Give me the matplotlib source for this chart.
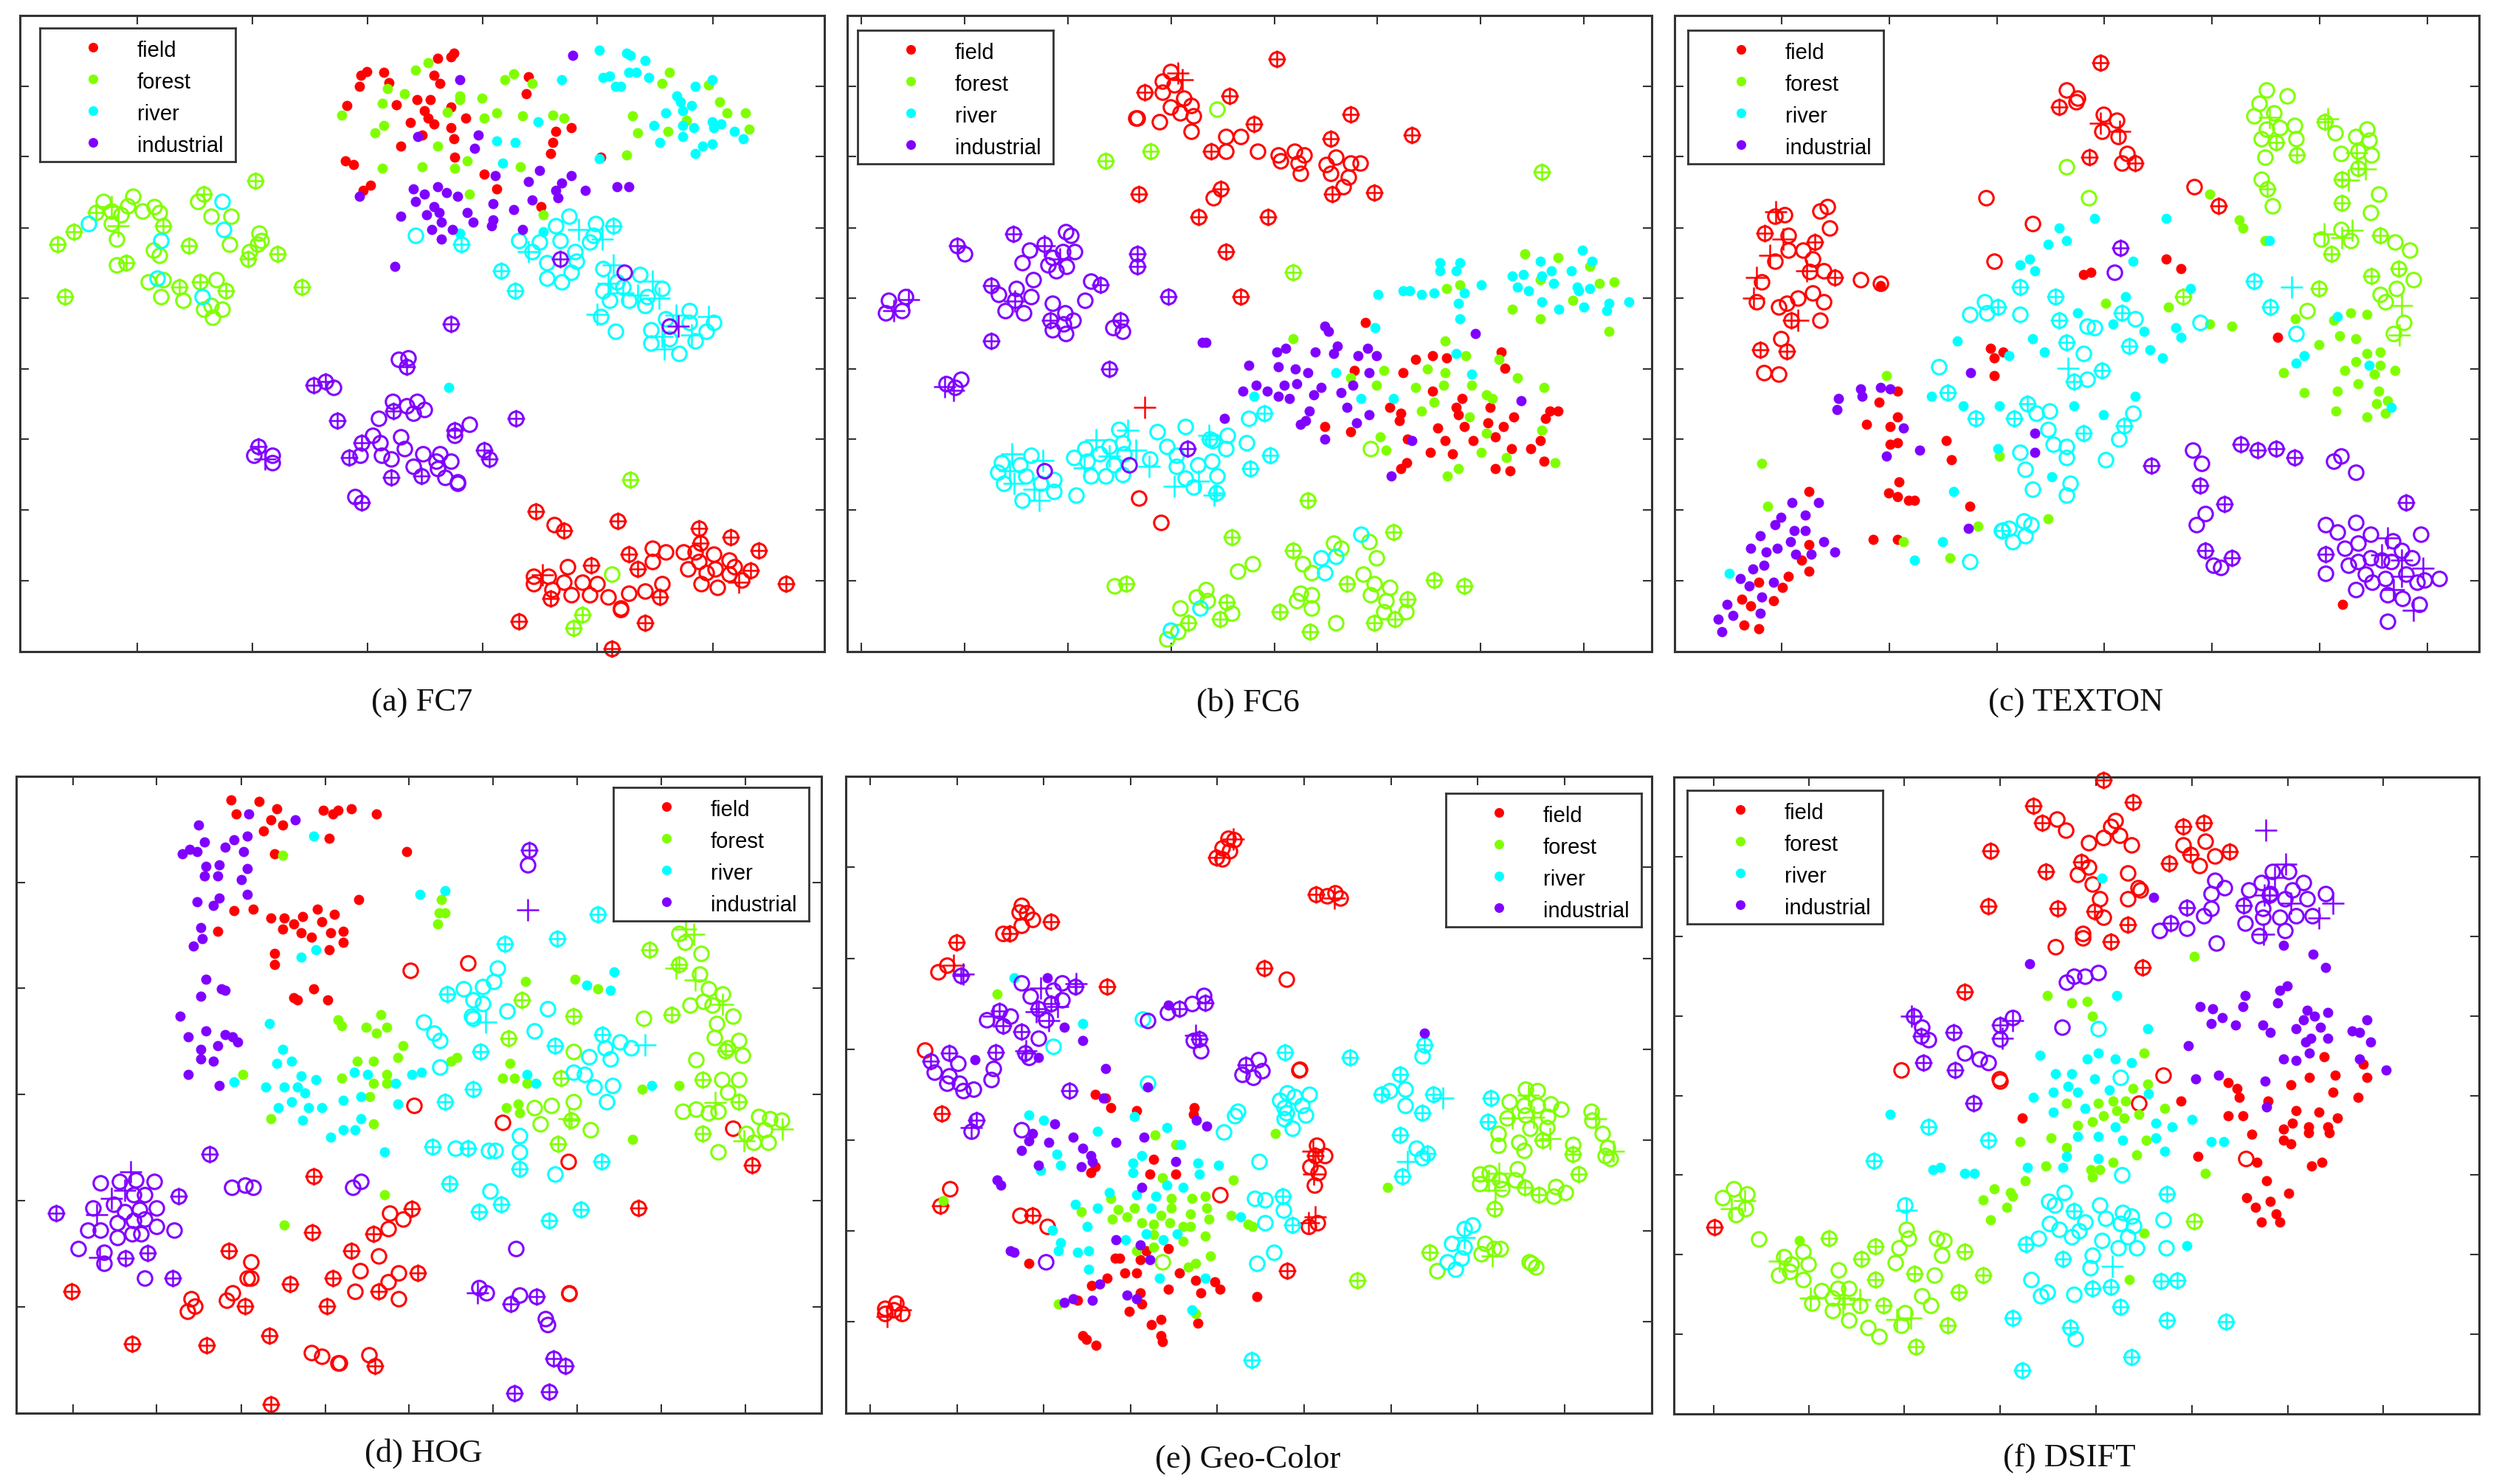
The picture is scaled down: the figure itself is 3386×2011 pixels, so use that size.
import matplotlib
matplotlib.use('Agg')
import matplotlib.pyplot as plt

# values, in each panel's own embedding units
classes = ['field', 'forest', 'river', 'industrial']
colors = ['#ff0000', '#80ff00', '#00ffff', '#8000ff']

# (a) FC7
a_field_dot = [(846,113),(840,121),(815,124),(684,152),(673,160),(715,153),(809,160),(725,176),(819,177),(670,184),(985,163),(981,200),(777,212),(801,212),(739,223),(646,224),(840,227),(791,235),(797,251),(808,263),(867,251),(764,260),(840,271),(787,287),(846,295),(746,311),(847,334),(643,342),(659,350),(1036,279),(1064,271),(1030,303),(1026,326),(1119,334),(902,370),(690,394),(677,404),(926,401),(1008,440)]
a_forest_dot = [(798,133),(774,149),(957,157),(940,169),(991,177),(722,188),(753,200),(857,204),(857,212),(898,208),(712,220),(833,239),(902,251),(926,240),(974,247),(1030,244),(1050,251),(636,244),(715,267),(698,283),(815,311),(787,354),(712,358),(847,358),(871,342),(970,354),(874,413),(1012,456),(1247,153),(1233,177),(1320,181),(1341,216),(1354,240),(1389,240),(1396,275),(1178,247),(1279,255),(1188,283),(1244,279),(1168,330)]
a_river_dot = [(1116,106),(1168,113),(1175,118),(1202,129),(1047,169),(1123,165),(1136,161),(1171,153),(1185,153),(1209,165),(1147,184),(1157,184),(1327,169),(1296,184),(1261,204),(1268,216),(1289,224),(1272,235),(1240,240),(1002,259),(1219,267),(1272,267),(1292,271),(1327,259),(1330,271),(1344,263),(1368,279),(1385,295),(1272,291),(1230,303),(1327,306),(1309,310),(1296,326),(926,299),(960,303),(936,346),(1116,338),(1012,492),(857,496),(836,823)]
a_industrial_dot = [(1067,118),(857,169),(778,291),(891,287),(884,315),(1005,362),(922,374),(984,386),(1064,374),(1047,389),(1036,405),(1040,421),(1091,405),(1150,397),(1171,397),(670,417),(770,401),(791,413),(815,397),(832,409),(853,417),(774,429),(809,440),(818,452),(919,433),(991,425),(957,445),(746,460),(795,456),(871,452),(822,472),(881,472),(919,468),(916,480),(805,488),(843,488),(974,488),(822,508),(736,567)]
a_field_ring = [(1033,1115),(1216,1166),(1241,1174),(1274,1174),(1295,1174),(1330,1178),(1358,1190),(1302,1193),(1216,1193),(1057,1205),(1282,1209),(1368,1205),(1316,1217),(1333,1209),(1358,1221),(1382,1233),(994,1225),(1022,1225),(994,1241),(1050,1237),(1085,1237),(1112,1241),(1233,1241),(1306,1241),(1337,1249),(1029,1253),(1064,1265),(1098,1265),(1133,1269),(1171,1261),(1202,1257),(1157,1292),(1157,1296)]
a_forest_ring = [(193,429),(248,417),(238,437),(207,448),(226,456),(265,448),(287,440),(297,452),(207,476),(217,508),(286,531),(297,543),(217,563),(276,599),(304,595),(300,630),(341,638),(393,650),(414,657),(379,657),(396,675),(368,429),(393,460),(431,460),(428,519),(483,496),(487,511),(480,519),(465,535),(403,595),(1140,1221)]
a_river_ring = [(165,476),(414,429),(417,488),(300,511),(293,591),(376,630),(774,500),(1060,460),(1036,480),(1109,476),(1105,500),(967,511),(1005,515),(1043,511),(1098,515),(1071,535),(1074,555),(1019,559),(1064,579),(1019,591),(1047,599),(991,535),(1123,571),(1150,599),(1192,583),(1123,618),(1160,610),(1136,638),(1171,638),(1202,650),(1233,614),(1206,630),(1119,673),(1147,705),(1240,677),(1285,661),(1285,685),(1330,685),(1316,705),(1213,701),(1213,730),(1247,720),(1295,724),(1265,752)]
a_industrial_ring = [(1164,579),(1247,693),(742,764),(760,760),(621,823),(732,854),(757,862),(777,854),(791,870),(770,878),(705,890),(874,902),(847,925),(694,925),(746,929),(708,941),(753,953),(671,968),(711,968),(729,976),(788,964),(819,964),(840,980),(812,980),(770,992),(815,996),(829,1015),(853,1024),(853,1028),(473,968),(508,968),(508,984),(662,1055)]
a_field_cross = [(998,1087),(1050,1127),(1151,1107),(1302,1123),(1361,1142),(1413,1170),(1305,1154),(1171,1178),(1102,1201),(1188,1209),(1399,1213),(1465,1241),(1230,1269),(1026,1272),(967,1320),(1202,1324),(1140,1379)]
a_forest_cross = [(476,385),(379,413),(179,452),(138,492),(107,519),(235,559),(304,480),(352,523),(462,551),(517,539),(334,610),(372,599),(421,618),(563,610),(121,630),(1175,1020),(1085,1307),(1068,1335)]
a_river_cross = [(860,519),(933,575),(960,618),(1143,480)]
a_industrial_cross = [(1043,551),(757,780),(607,811),(584,819),(628,894),(733,874),(847,914),(961,890),(840,689),(481,949),(674,941),(650,972),(785,1011),(729,1015),(902,957),(912,976),(674,1068)]
a_field_plus = [(1010,1222),(1376,1237)]
a_forest_plus = [(207,440),(220,480)]
a_river_plus = [(1078,488),(1122,508),(985,535),(1142,563),(1133,603),(1216,598),(1228,634),(1188,627),(1112,669),(1260,670),(1320,673),(1288,712),(1233,715),(1238,742),(1160,622)]
a_industrial_plus = [(493,976),(1264,693)]

# (b) FC6
b_field_dot = [(999,685),(1254,748),(1093,764),(1125,756),(1152,760),(1261,783),(978,788),(1069,792),(1125,831),(1181,847),(1045,866),(1065,878),(1062,894),(1170,866),(1174,882),(1233,866),(1278,886),(1345,874),(1361,874),(1337,890),(922,906),(971,917),(1135,910),(1184,906),(1229,898),(1258,906),(1078,933),(1149,937),(1202,937),(1243,929),(1327,937),(1274,953),(1310,953),(1121,961),(1162,965),(1334,980),(1076,984),(1065,996),(1243,996),(1271,1000)]
b_forest_dot = [(1299,539),(1361,547),(1421,567),(1327,595),(1466,599),(1438,603),(1389,638),(1275,657),(1327,677),(1456,705),(1152,614),(1177,606),(1149,724),(863,720),(1188,756),(1250,764),(1115,784),(1149,792),(1034,788),(971,803),(1285,803),(1020,819),(1093,823),(1146,819),(1198,819),(1334,823),(1226,839),(1237,847),(1128,855),(1104,874),(1194,886),(1330,914),(1226,921),(1027,929),(1037,957),(1216,961),(1264,972),(1355,984),(1174,996),(1153,1012)]
b_river_dot = [(1139,559),(1177,559),(1139,575),(1170,575),(1407,531),(1425,555),(1327,555),(1348,575),(1386,575),(1275,587),(1296,583),(1330,587),(1352,603),(1285,610),(1306,618),(1397,610),(1400,618),(1421,614),(1330,641),(1362,657),(1410,653),(1456,645),(1452,661),(1494,641),(1216,606),(1184,622),(1174,645),(1177,677),(1023,626),(1069,618),(1082,618),(1104,626),(1128,622),(1017,697),(1170,752),(943,792),(1198,795),(790,843),(991,847),(1051,847)]
b_industrial_dot = [(922,693),(929,705),(692,728),(699,728),(1205,709),(946,736),(1003,740),(832,748),(849,740),(905,748),(939,752),(985,756),(1020,756),(780,776),(835,780),(867,784),(891,792),(1006,792),(846,819),(870,815),(793,819),(915,823),(768,831),(814,831),(835,843),(856,847),(901,839),(953,835),(975,819),(1292,851),(964,866),(894,874),(734,890),(887,894),(877,902),(982,898),(1006,882),(922,933),(1086,937),(1048,1012)]
b_field_ring = [(632,152),(618,172),(640,180),(618,196),(657,208),(671,224),(632,228),(650,240),(675,247),(567,251),(570,251),(612,259),(671,279),(737,291),(765,291),(737,322),(796,322),(835,330),(839,342),(866,322),(873,346),(884,330),(943,334),(925,350),(971,346),(989,346),(933,369),(877,369),(967,377),(957,397),(713,421),(573,1059),(615,1111)]
b_forest_ring = [(720,232),(1009,953),(787,1198),(759,1214),(527,1245),(939,1154),(953,1166),(1006,1151),(1020,1186),(881,1198),(898,1217),(995,1221),(1016,1241),(1044,1249),(1009,1265),(1037,1276),(699,1253),(681,1269),(702,1276),(650,1292),(748,1304),(877,1261),(870,1276),(898,1265),(898,1292),(1034,1300),(1075,1300),(943,1324),(646,1343),(626,1359)]
b_river_ring = [(991,1135),(915,1186),(943,1182),(922,1217),(688,1292),(632,1339),(660,906),(608,917),(535,913),(543,941),(740,925),(779,890),(626,949),(712,937),(776,941),(472,953),(517,949),(451,972),(500,965),(545,965),(643,968),(737,953),(594,976),(710,980),(684,988),(476,980),(526,988),(643,992),(483,1012),(511,1012),(542,1008),(660,1016),(720,1012),(675,1036),(455,1052),(371,968),(315,984),(350,988),(308,1004),(361,1012),(319,1028),(413,1020),(389,1028),(413,1044),(354,1064)]
b_industrial_ring = [(555,988),(396,1000),(436,492),(445,500),(246,539),(396,519),(368,531),(430,535),(452,535),(410,547),(354,559),(402,563),(417,575),(437,567),(375,594),(483,598),(343,614),(309,626),(371,630),(340,638),(472,638),(322,661),(357,665),(410,645),(434,665),(449,681),(431,689),(410,701),(436,709),(525,697),(542,705),(103,638),(134,630),(97,665),(128,661),(239,807),(211,815),(228,823)]
b_field_cross = [(832,125),(584,196),(744,204),(971,243),(790,263),(1086,287),(933,295),(709,322),(727,401),(573,413),(936,413),(1016,409),(685,461),(815,461),(737,535),(765,630)]
b_forest_cross = [(511,342),(595,322),(1331,366),(863,579),(891,1064),(748,1142),(1051,1131),(863,1170),(550,1241),(964,1241),(1128,1233),(1184,1245),(738,1280),(1078,1273),(838,1300),(726,1316),(1016,1324),(1054,1316),(666,1324),(895,1343)]
b_river_cross = [(809,878),(706,933),(820,968),(783,996),(718,1048)]
b_industrial_cross = [(665,953),(337,498),(231,523),(570,539),(570,567),(295,607),(501,605),(629,630),(538,681),(406,681),(295,725),(517,784)]
b_field_plus = [(647,155),(655,170),(584,866)]
b_forest_plus = []
b_river_plus = [(552,915),(493,935),(568,957),(517,970),(470,995),(592,992),(640,1033),(685,1023),(335,965),(392,978),(330,1000),(338,1027),(376,1040),(385,1063),(714,1053),(705,925)]
b_industrial_plus = [(396,522),(425,550),(112,660),(140,637),(208,822),(225,830),(340,640)]

# (c) TEXTON
c_field_dot = [(402,607),(941,551),(969,571),(784,583),(798,579),(1151,717),(609,740),(633,748),(616,760),(616,799),(434,831),(399,855),(434,886),(375,902),(420,906),(434,941),(420,945),(525,937),(535,977),(437,1024),(417,1048),(434,1056),(455,1064),(465,1064),(570,1076),(266,1044),(388,1147),(434,1147),(266,1158),(252,1190),(266,1214),(228,1225),(172,1237),(217,1249),(140,1273),(157,1288),(199,1276),(144,1328),(172,1336),(1274,1285)]
c_forest_dot = [(1022,413),(1078,468),(1085,484),(1127,512),(826,645),(945,653),(1022,689),(1064,693),(1184,677),(1257,681),(1288,665),(1320,669),(1268,713),(1299,720),(1229,733),(1320,752),(1344,748),(1299,768),(1344,776),(1278,788),(1333,795),(1372,788),(1162,792),(1302,815),(1201,835),(1264,831),(1341,831),(1358,851),(1337,858),(1261,874),(1354,878),(1320,886),(413,799),(626,969),(178,985),(189,1076),(717,1103),(585,1119),(445,1151),(532,1186)]
c_river_dot = [(941,465),(805,465),(738,484),(753,512),(717,519),(1136,512),(683,551),(665,563),(878,555),(693,575),(987,614),(864,630),(773,665),(840,689),(959,697),(899,705),(969,717),(689,720),(546,724),(711,748),(910,744),(934,760),(644,756),(1264,673),(1201,756),(1186,772),(1323,776),(882,843),(497,843),(557,863),(626,863),(766,863),(822,882),(1365,866),(623,953),(724,1013),(539,1044),(518,1151),(465,1190),(116,1218)]
c_industrial_dot = [(364,827),(402,823),(420,827),(367,843),(322,847),(319,870),(571,792),(445,910),(693,921),(476,957),(413,969),(693,961),(235,1068),(284,1068),(259,1095),(213,1099),(203,1115),(238,1127),(259,1127),(175,1139),(231,1151),(294,1151),(157,1166),(207,1166),(186,1174),(242,1178),(270,1178),(315,1174),(182,1201),(161,1209),(137,1229),(199,1237),(154,1245),(178,1269),(112,1285),(123,1308),(175,1304),(95,1316),(102,1343),(567,1123)]
c_field_ring = [(752,192),(773,208),(770,216),(822,243),(847,255),(819,279),(850,291),(867,326),(857,346),(993,397),(601,421),(689,476),(616,555),(301,440),(287,448),(221,456),(305,484),(228,500),(228,531),(256,531),(273,551),(203,555),(294,575),(178,599),(364,595),(402,603),(273,622),(245,634),(224,645),(294,641),(210,653),(287,681),(168,642),(214,720),(182,792),(210,796),(203,460),(268,578)]
c_forest_ring = [(752,354),(794,421),(1130,192),(1169,204),(1116,220),(1144,240),(1106,247),(1130,275),(1155,271),(1183,267),(1186,295),(1120,295),(1127,334),(1120,381),(1141,437),(1260,283),(1320,275),(1298,291),(1323,298),(1270,326),(1327,330),(1302,322),(1341,413),(1326,452),(1271,488),(1288,512),(1233,508),(1372,515),(1400,531),(1407,594),(1375,614),(1344,626),(1354,641),(1207,661),(1389,685),(1369,709)]
c_river_ring = [(598,641),(570,669),(602,665),(665,669),(882,677),(1004,685),(791,693),(805,697),(1186,709),(784,752),(511,780),(791,807),(696,878),(721,874),(878,878),(717,913),(851,933),(728,945),(753,949),(665,961),(752,973),(826,977),(675,997),(759,1028),(689,1040),(752,1052),(672,1107),(686,1115),(644,1123),(630,1127),(675,1139),(651,1151),(570,1194)]
c_industrial_ring = [(843,579),(990,957),(1008,985),(1015,1091),(997,1115),(1029,1201),(1043,1206),(1257,981),(1270,969),(1298,1004),(1242,1115),(1298,1111),(1264,1131),(1326,1135),(1421,1135),(1368,1150),(1302,1154),(1277,1166),(1385,1170),(1404,1186),(1326,1186),(1302,1194),(1284,1201),(1347,1190),(1365,1194),(1242,1218),(1316,1221),(1393,1221),(1354,1229),(1329,1237),(1298,1253),(1414,1237),(1428,1233),(1456,1229),(1358,1265),(1386,1272),(1418,1285),(1358,1320)]
c_field_cross = [(816,133),(738,228),(795,334),(882,346),(1040,437),(183,496),(277,515),(315,590),(175,744),(224,746),(233,681)]
c_forest_cross = [(1148,302),(1187,330),(1132,402),(1240,259),(1272,432),(1344,500),(1252,539),(1379,571),(1327,587),(1229,614),(973,630),(1272,381),(1303,357)]
c_river_cross = [(665,610),(623,653),(732,630),(857,665),(738,681),(753,728),(871,736),(819,788),(767,811),(528,835),(581,890),(654,890),(679,858),(784,921),(861,905),(1106,598),(1137,653),(632,1127)]
c_industrial_cross = [(854,527),(913,989),(1081,945),(1113,957),(1148,953),(1183,973),(1005,1032),(1050,1071),(1015,1170),(1064,1186),(1393,1068),(1242,1178)]
c_field_plus = [(204,450),(218,508),(192,543),(262,575),(168,590),(162,634),(245,681),(817,262),(853,279)]
c_forest_plus = [(1135,250),(1245,252),(1300,325),(1285,383),(1317,360),(1238,497),(1292,490),(1272,505),(1385,650),(1380,712)]
c_river_plus = [(755,783),(1177,610)]
c_industrial_plus = [(1358,1143),(1347,1180),(1385,1190),(1425,1208),(1385,1225),(1369,1253),(1407,1297)]

# (d) HOG
d_field_dot = [(430,87),(482,91),(516,106),(603,110),(620,118),(630,110),(654,106),(701,118),(440,118),(505,130),(526,142),(491,154),(613,170),(512,203),(758,199),(668,303),(436,327),(471,323),(592,323),(623,335),(505,343),(530,343),(564,339),(547,355),(599,351),(526,367),(561,375),(616,375),(640,371),(405,371),(581,384),(640,395),(613,411),(512,419),(512,444),(585,496),(547,516),(554,520),(610,520)]
d_forest_dot = [(526,207),(823,303),(819,331),(830,331),(816,355),(979,480),(1072,476),(1114,496),(630,564),(637,576),(709,552),(682,580),(702,592),(720,580),(751,620),(741,645),(665,653),(696,653),(851,645),(840,653),(637,689),(720,681),(696,701),(720,701),(689,729),(453,681),(951,657),(937,689),(958,689),(982,701),(1197,713),(1266,705),(944,753),(965,745),(968,765),(505,777),(696,789),(1179,822),(716,942),(530,1007)]
d_river_dot = [(585,166),(830,283),(782,291),(588,411),(561,427),(1145,460),(1093,488),(1138,500),(502,572),(526,628),(516,657),(543,653),(561,685),(588,693),(495,709),(530,709),(554,709),(568,721),(543,741),(519,753),(575,753),(599,753),(564,781),(640,737),(672,729),(660,677),(685,681),(737,701),(768,681),(786,677),(741,745),(672,777),(640,801),(661,801),(616,817),(716,850),(436,697),(982,681),(999,701),(1214,705)]
d_industrial_dot = [(464,118),(550,130),(370,142),(461,166),(436,174),(381,178),(419,190),(353,194),(339,203),(367,199),(454,199),(408,227),(384,231),(461,235),(381,251),(405,251),(450,259),(461,291),(408,299),(367,307),(398,315),(374,363),(377,387),(360,403),(384,476),(412,496),(419,500),(374,512),(336,556),(384,588),(419,596),(433,600),(443,612),(350,600),(405,620),(374,628),(374,648),(398,653),(350,681),(408,705)]
d_field_ring = [(765,456),(872,440),(771,749),(937,786),(1059,870),(1366,798),(726,982),(723,1015),(751,995),(706,1075),(467,1087),(671,1107),(743,1111),(461,1123),(467,1123),(723,1131),(433,1155),(661,1151),(743,1167),(356,1167),(422,1171),(363,1183),(349,1195),(1060,1155),(1060,1156),(581,1284),(599,1292),(630,1307),(632,1307),(688,1288)]
d_forest_ring = [(1266,376),(1276,396),(1307,420),(1304,464),(1321,496),(1346,508),(1286,532),(1311,524),(1328,532),(1366,556),(1200,560),(1335,572),(1331,601),(1377,608),(1356,624),(1384,640),(1297,649),(1069,632),(1345,693),(1377,693),(1356,720),(1069,741),(996,753),(1027,749),(1272,761),(1297,757),(1321,765),(1339,761),(1007,789),(1100,801),(1414,773),(1435,777),(1457,781),(1425,801),(1390,809),(1404,829),(1432,829),(1339,850)]
d_river_ring = [(927,452),(920,480),(864,496),(899,492),(882,520),(899,528),(945,544),(1020,540),(789,568),(879,556),(882,560),(996,588),(809,592),(820,608),(1155,612),(1128,624),(1176,624),(1097,644),(1138,648),(820,665),(1069,677),(1090,681),(1107,709),(1141,705),(1131,741),(968,814),(848,842),(910,846),(923,846),(968,850),(1034,898),(913,934)]
d_industrial_ring = [(983,227),(187,917),(222,914),(253,910),(287,914),(249,942),(270,942),(211,962),(173,970),(232,978),(260,974),(291,970),(218,1002),(249,998),(270,994),(163,1019),(187,1019),(291,1011),(325,1019),(218,1035),(246,1027),(263,1027),(146,1059),(194,1067),(194,1091),(270,1123),(432,926),(457,922),(471,926),(657,926),(672,914),(961,1059),(892,1143),(906,1155),(968,1159),(1017,1211),(1020,1223)]
d_field_cross = [(1401,878),(585,902),(768,972),(1190,970),(582,1023),(696,1027),(426,1063),(654,1063),(778,1111),(620,1123),(540,1135),(133,1151),(706,1151),(457,1183),(609,1183),(502,1248),(246,1264),(385,1268),(699,1312),(505,1396)]
d_forest_cross = [(1211,411),(1266,444),(972,520),(1069,556),(1252,552),(948,604),(1352,630),(1045,689),(1310,693),(1377,741),(1064,781),(1310,809),(1040,831)]
d_river_cross = [(1114,335),(1038,387),(941,399),(834,508),(1123,596),(896,632),(1034,620),(882,713),(830,741),(806,838),(872,842),(968,886),(1121,870),(837,918),(934,962),(893,978),(1082,974),(1024,998)]
d_industrial_cross = [(986,195),(391,854),(332,946),(104,982),(233,1080),(275,1068),(322,1122),(1000,1163),(952,1179),(1031,1296),(1054,1312),(958,1372),(1024,1368)]
d_field_plus = []
d_forest_plus = [(1278,367),(1293,378),(1260,452),(1296,477),(1347,530),(1333,743),(1060,777),(1386,825),(1458,800)]
d_river_plus = [(905,568),(1202,617)]
d_industrial_plus = [(984,326),(243,893),(232,932),(208,950),(180,985),(185,1078),(890,1155)]

# (e) Geo-Color
e_field_dot = [(491,725),(510,733),(520,753),(569,760),(677,753),(676,768),(600,866),(491,882),(482,894),(593,898),(642,898),(528,1079),(537,1079),(575,1083),(586,1063),(628,1059),(366,1091),(547,1111),(569,1111),(649,1111),(513,1123),(484,1139),(680,1127),(715,1131),(726,1147),(628,1147),(690,1155),(575,1154),(795,1163),(457,1171),(579,1179),(555,1195),(614,1212),(597,1224),(684,1220),(467,1247),(474,1255),(492,1268),(614,1247),(617,1260)]
e_forest_dot = [(307,508),(603,813),(642,834),(830,809),(617,906),(750,910),(1040,926),(520,950),(634,950),(673,950),(698,946),(534,974),(565,970),(634,970),(701,970),(464,978),(551,990),(523,994),(614,986),(670,983),(746,986),(704,994),(579,1002),(600,1006),(631,1002),(656,1010),(670,1010),(778,1006),(787,1011),(600,1028),(698,1031),(656,1043),(600,1055),(569,1063),(708,1075),(680,1091),(666,1099),(421,1179),(680,1200),(205,955)]
e_river_dot = [(338,472),(467,572),(366,769),(394,781),(495,805),(565,773),(625,797),(652,834),(419,854),(579,858),(426,878),(388,890),(562,874),(684,874),(722,878),(562,894),(687,898),(625,922),(656,926),(517,938),(569,942),(604,946),(453,962),(495,970),(597,970),(764,990),(475,1011),(410,1018),(586,1026),(645,1026),(618,1039),(426,1046),(548,1039),(422,1063),(457,1067),(478,1063),(478,1103),(611,1123),(698,1123),(673,1192)]
e_industrial_dot = [(401,472),(628,532),(433,580),(467,608),(1109,592),(265,649),(384,645),(510,669),(590,708),(506,733),(681,781),(701,793),(415,789),(373,809),(450,817),(366,825),(404,829),(530,829),(583,817),(352,846),(467,842),(482,858),(485,870),(642,870),(384,878),(464,882),(307,910),(314,922),(579,926),(530,1039),(576,1050),(593,1083),(331,1063),(338,1067),(499,1135),(551,1159),(569,1167),(450,1167),(485,1171),(432,1175)]
e_field_ring = [(195,460),(212,445),(352,315),(348,330),(362,332),(373,346),(352,358),(317,376),(171,629),(875,671),(874,672),(850,476),(907,835),(922,858),(895,882),(910,894),(903,922),(725,942),(217,930),(350,987),(401,1010),(892,1011),(908,1003),(740,170),(752,174),(743,198),(729,191),(729,215),(926,295),(942,288),(951,299),(95,1188),(116,1177),(95,1200),(127,1200),(112,1192)]
e_forest_ring = [(617,1087),(1300,713),(1322,717),(1269,741),(1347,745),(1367,757),(1297,749),(1322,749),(1265,776),(1300,769),(1342,772),(1308,798),(1340,796),(1423,761),(1425,780),(1444,810),(1454,840),(1450,857),(1460,864),(1249,810),(1249,835),(1287,829),(1297,846),(1388,833),(1214,898),(1232,894),(1284,886),(1214,918),(1251,910),(1280,910),(1255,930),(1356,925),(1375,938),(1352,946),(1224,1047),(1216,1070),(1252,1059),(1240,1058),(1133,1107),(1307,1087),(1311,1090),(1319,1099)]
e_river_ring = [(580,561),(590,701),(412,621),(732,806),(758,761),(753,771),(851,721),(866,729),(893,725),(838,737),(846,753),(879,749),(850,765),(886,769),(846,777),(862,798),(799,870),(791,950),(810,954),(845,975),(810,1003),(827,1067),(795,1091),(1045,716),(1074,713),(1074,749),(1105,642),(1095,842),(1105,862),(1200,1007),(1185,1015),(1161,1047),(1185,1055),(1153,1087),(1179,1079),(1168,1103)]
e_industrial_ring = [(352,484),(429,484),(412,500),(369,512),(429,520),(695,511),(673,528),(627,548),(590,565),(332,556),(287,564),(398,564),(384,604),(690,630),(675,608),(366,645),(233,657),(300,669),(188,677),(216,684),(296,692),(212,700),(235,700),(243,716),(262,713),(798,649),(805,673),(767,681),(788,688),(352,802),(398,1087),(258,805)]
e_field_cross = [(230,396),(408,351),(330,376),(513,492),(809,452),(203,766),(906,291),(719,211),(199,966),(373,986),(851,1107),(905,857)]
e_forest_cross = [(1332,824),(1388,854),(1400,898),(1298,926),(1325,942),(1242,973),(1120,1067),(984,1127)]
e_river_cross = [(847,633),(969,645),(1109,617),(1064,681),(1029,725),(1127,725),(1234,733),(1105,765),(1229,784),(1064,813),(1115,852),(1068,902),(844,946),(862,1007),(785,1300)]
e_industrial_cross = [(238,467),(453,492),(698,527),(649,540),(310,544),(384,540),(408,528),(317,576),(352,589),(686,605),(216,636),(304,633),(359,636),(181,653),(774,661),(443,717),(268,781)]
e_field_plus = [(225,445),(750,172),(940,300),(900,848),(902,897),(892,1002),(905,990),(100,1205),(125,1192)]
e_forest_plus = [(1305,727),(1275,776),(1315,775),(1432,778),(1345,820),(1465,848),(1250,895),(1230,912),(1243,932),(1238,1075)]
e_river_plus = [(1145,733),(1078,870),(1185,1035)]
e_industrial_plus = [(455,485),(388,495),(420,535),(380,545),(403,565),(300,555),(360,630),(680,597),(258,797),(242,465)]

# (f) DSIFT
f_field_dot = [(1238,643),(1312,659),(1259,683),(1318,687),(1210,687),(1175,703),(1056,699),(1073,711),(1077,731),(1255,719),(1301,731),(968,739),(1132,739),(1185,759),(1228,763),(668,775),(1056,771),(1084,771),(1262,775),(1178,787),(1161,799),(1209,795),(1245,795),(1209,807),(1248,807),(1101,811),(1161,823),(1175,831),(1000,859),(1111,871),(1214,879),(1234,871),(1129,911),(1171,939),(1091,948),(1136,956),(1108,968),(1147,983),(1119,1000),(1154,1000)]
f_forest_dot = [(993,425),(716,510),(762,526),(790,522),(800,554),(898,635),(905,702),(877,711),(752,743),(811,743),(839,739),(863,739),(937,755),(846,759),(822,771),(860,775),(888,767),(801,783),(773,791),(664,827),(723,819),(902,823),(752,839),(884,855),(839,871),(713,879),(797,887),(815,887),(800,903),(1014,895),(674,911),(615,928),(646,936),(650,944),(594,952),(639,968),(608,996),(898,1024),(870,1125),(248,1041)]
f_river_dot = [(818,256),(846,510),(905,582),(702,639),(811,635),(790,647),(843,647),(874,655),(731,679),(762,679),(804,691),(755,707),(727,719),(773,719),(832,715),(906,723),(689,731),(787,755),(727,763),(989,779),(920,787),(951,795),(843,795),(773,815),(811,815),(857,823),(920,819),(1024,827),(1048,827),(937,847),(752,859),(811,863),(678,883),(745,883),(500,887),(513,883),(559,895),(577,895),(419,767),(979,1052)]
f_industrial_dot = [(916,297),(1161,402),(1217,421),(1241,450),(682,441),(1168,490),(1154,498),(1088,510),(1150,526),(1004,534),(1028,538),(1084,534),(1206,542),(1220,554),(1245,546),(1199,562),(1046,558),(1025,570),(1070,574),(1122,574),(1318,562),(1136,590),(1185,582),(1231,578),(1290,586),(1304,590),(1245,602),(1213,602),(1203,610),(1325,610),(982,618),(1210,634),(1161,647),(1185,651),(1304,647),(1354,671),(1039,683),(996,691),(1126,695),(1129,751)]
f_field_ring = [(734,128),(751,152),(843,132),(835,144),(852,164),(821,168),(874,184),(793,180),(972,184),(1014,176),(1032,208),(1003,228),(793,232),(772,248),(867,244),(800,268),(887,276),(891,282),(815,300),(867,300),(822,340),(783,376),(783,385),(731,405),(440,671),(625,691),(627,695),(934,683),(888,743),(1090,863)]
f_forest_ring = [(124,929),(149,940),(103,948),(128,985),(146,972),(171,1037),(450,1016),(454,1036),(506,1036),(520,1040),(436,1056),(516,1072),(429,1088),(255,1064),(219,1076),(233,1092),(265,1092),(209,1116),(230,1108),(255,1125),(321,1104),(503,1116),(289,1149),(320,1145),(341,1145),(310,1165),(272,1177),(310,1193),(362,1181),(479,1161),(496,1181),(341,1213),(447,1197),(377,1229),(440,1225),(398,1249)]
f_river_ring = [(811,582),(853,687),(856,899),(748,936),(718,956),(730,964),(815,964),(858,980),(874,988),(786,1000),(825,992),(720,1004),(854,1004),(934,996),(738,1016),(776,1020),(878,1008),(699,1036),(762,1032),(867,1032),(818,1040),(849,1056),(884,1056),(940,1056),(800,1072),(796,1100),(685,1125),(716,1153),(703,1161),(765,1157),(768,1253),(447,964)]
f_industrial_ring = [(1140,241),(1171,241),(1031,261),(1049,277),(1119,265),(1095,281),(1199,265),(1178,281),(1024,289),(1241,289),(1136,289),(1164,301),(1206,301),(1122,321),(1024,321),(1011,337),(1122,341),(1154,341),(1185,337),(1216,337),(1088,353),(979,365),(927,369),(1164,369),(1115,381),(1035,397),(811,461),(786,469),(765,469),(752,481),(744,578),(650,558),(479,578),(491,606),(559,634),(587,647),(604,655),(626,604)]
f_field_cross = [(821,43),(877,92),(689,100),(706,136),(972,144),(1011,136),(608,196),(986,204),(1060,198),(945,224),(779,220),(713,241),(604,317),(735,321),(804,328),(867,357),(835,393),(895,450),(559,502),(87,1012)]
f_forest_cross = [(304,1036),(391,1053),(365,1080),(559,1064),(391,1125),(465,1112),(594,1116),(548,1153),(406,1181),(527,1225),(468,1270),(993,999)]
f_river_cross = [(941,940),(766,976),(675,1049),(745,1081),(835,1141),(800,1145),(930,1129),(961,1127),(492,795),(604,823),(388,868),(853,1185),(650,1209),(759,1229),(941,1213),(1053,1217),(874,1293),(668,1322)]
f_industrial_cross = [(979,320),(948,353),(1086,315),(1134,292),(463,554),(627,574),(538,590),(478,598),(482,655),(541,671),(576,743)]
f_field_plus = []
f_forest_plus = [(145,955),(120,972),(210,1085),(268,1165),(330,1178),(362,1168),(432,1212),(458,1208),(333,1165)]
f_river_plus = [(838,1097),(450,975)]
f_industrial_plus = [(1127,152),(1165,225),(1145,255),(1125,292),(1175,310),(1255,310),(1228,342),(1123,378),(630,603),(650,565),(460,555)]

# tick positions and limits of every panel
a_xticks = [255,470,685,899,1113,1328]
b_xticks = [52,245,440,634,828,1021,1215,1409]
c_xticks = [215,418,621,824,1027,1230,1433]
d_xticks = [136,292,449,606,762,919,1076,1232,1389]
e_xticks = [68,231,394,557,720,884,1047,1210,1373]
f_xticks = [86,266,446,627,808,988,1169,1349]
abc_yticks = [183,333,484,634,784,934,1084,1235]
d_yticks = [266,495,725,955,1185]
e_yticks = [233,430,627,824,1020,1217]
f_yticks = [210,382,554,727,899,1071,1243]

W, H = 3386, 2011
fig = plt.figure(figsize=(W / 100, H / 100), dpi=100, facecolor='white')


def draw_legend(left, top):
    # the key gets its own small axes so the rows sit where they do in the original
    lax = fig.add_axes([left / W, 1 - (top + 181) / H, 265 / W, 181 / H], zorder=5)
    lax.set_xlim(0, 265)
    lax.set_ylim(181, 0)
    lax.set_xticks([])
    lax.set_yticks([])
    for s in lax.spines.values():
        s.set_linewidth(2.0)
        s.set_color('#333333')
    for i, (name, col) in enumerate(zip(classes, colors)):
        y = 26 + 43 * i
        lax.plot([72], [y], 'o', color=col, ms=9.4, mew=0)
        lax.text(132, y + 13, name, family='Liberation Sans', fontsize=21, va='baseline', color='black')


def draw_panel(letter, title, box, xlim, ylim, xticks, yticks, legend_at, title_at):
    left, right, top, bottom = box
    ax = fig.add_axes([left / W, 1 - bottom / H, (right - left) / W, (bottom - top) / H])
    for name, col in zip(classes, colors):
        pts = globals()[f'{letter}_{name}_dot']
        ax.plot([p[0] for p in pts], [p[1] for p in pts], 'o', color=col, ms=10, mew=0,
                clip_on=False)
        rings = globals()[f'{letter}_{name}_ring'] + globals()[f'{letter}_{name}_cross']
        ax.plot([p[0] for p in rings], [p[1] for p in rings], 'o', mfc='none', mec=col, ms=14,
                mew=2.2, clip_on=False)
        # circle with a plus on top of it, smaller than the free plus marks
        cross = globals()[f'{letter}_{name}_cross']
        ax.plot([p[0] for p in cross], [p[1] for p in cross], '+', color=col, ms=17.5, mew=1.8,
                clip_on=False)
        plus = globals()[f'{letter}_{name}_plus']
        ax.plot([p[0] for p in plus], [p[1] for p in plus], '+', color=col, ms=21, mew=1.8,
                clip_on=False)
    ax.set_xlim(*xlim)
    ax.set_ylim(*ylim)
    ax.set_xticks(xticks)
    ax.set_yticks(yticks)
    ax.tick_params(direction='in', length=8.5, width=1.5, color='#333333', top=True, right=True,
                   labelbottom=False, labelleft=False)
    for s in ax.spines.values():
        s.set_linewidth(2.2)
        s.set_color('#333333')
    draw_legend(*legend_at)
    fig.text(title_at[0] / W, 1 - title_at[1] / H, title, ha='center', va='center',
             family='Liberation Serif', fontsize=32, color='#111111')


draw_panel('a', '(a) FC7', (27, 1117, 21, 883), (37, 1536), (1385, 33), a_xticks, abc_yticks, (54, 38), (572, 953))
draw_panel('b', '(b) FC6', (1148, 2238, 21, 883), (25, 1537), (1385, 33), b_xticks, abc_yticks, (1162, 41), (1691, 953))
draw_panel('c', '(c) TEXTON', (2269, 3359, 21, 883), (13, 1531), (1385, 33), c_xticks, abc_yticks, (2287, 41), (2813, 953))
draw_panel('d', '(d) HOG', (22, 1113, 1052, 1915), (30, 1531), (1415, 36), d_xticks, d_yticks, (831, 1067), (574, 1970))
draw_panel('e', '(e) Geo-Color', (1146, 2238, 1052, 1915), (22, 1537), (1415, 36), e_xticks, e_yticks, (1959, 1075), (1691, 1978))
draw_panel('f', '(f) DSIFT', (2268, 3359, 1053, 1916), (11, 1530), (1416, 37), f_xticks, f_yticks, (2286, 1071), (2804, 1976))

fig.savefig('out.png', dpi=100, facecolor='white')
